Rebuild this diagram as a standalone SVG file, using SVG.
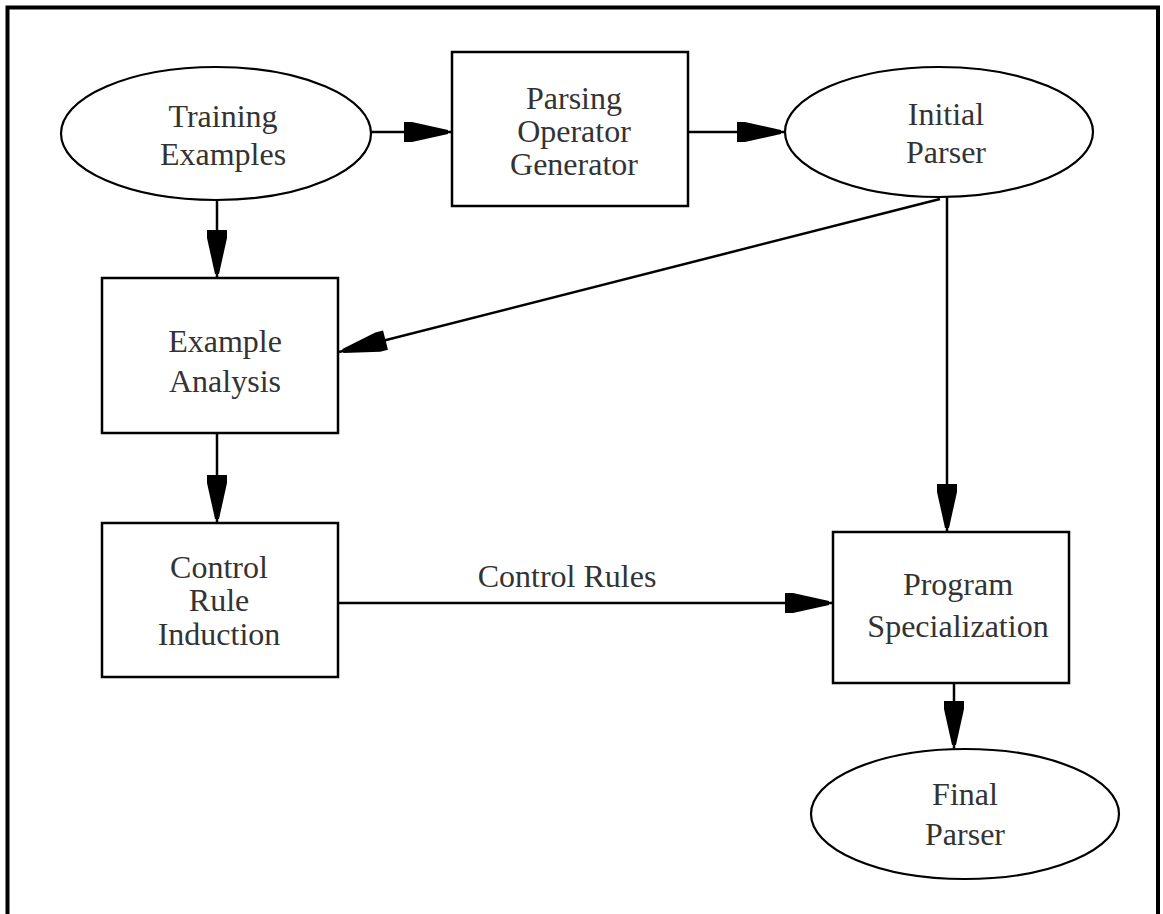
<svg xmlns="http://www.w3.org/2000/svg" width="1163" height="914" viewBox="0 0 1163 914">
  <style>
    .node { fill: #ffffff; stroke: #000000; stroke-width: 2.5; }
    .oval { fill: #ffffff; stroke: #000000; stroke-width: 2.2; }
    .label { font-family: "Liberation Serif", "Times New Roman", serif; font-size: 32px; fill: #333333; text-anchor: middle; }
    .edge { fill: none; stroke: #000000; stroke-width: 2.5; marker-end: url(#head); }
    .frame { fill: none; stroke: #000000; stroke-width: 4; }
  </style>
  <defs>
    <marker id="head" viewBox="0 -11 50 22" markerWidth="50" markerHeight="22" refX="50" refY="0" markerUnits="userSpaceOnUse" orient="auto">
      <path d="M2,-10 L10,-10 L46,-2 L46,2 L10,10 L2,10 Z" fill="#000000"/>
    </marker>
  </defs>

  <rect width="1163" height="914" fill="#ffffff"/>
  <!-- outer frame, open at the bottom -->
  <path class="frame" d="M7.5,914 V7.5 H1158 V914"/>

  <g id="connectors">
    <line class="edge" x1="371" y1="132" x2="452" y2="132"/>
    <line class="edge" x1="688" y1="132" x2="785" y2="132"/>
    <line class="edge" x1="217" y1="200" x2="217" y2="278"/>
    <line class="edge" x1="940" y1="199" x2="339" y2="352"/>
    <line class="edge" x1="947" y1="197" x2="947" y2="532"/>
    <line class="edge" x1="217" y1="433" x2="217" y2="523"/>
    <line class="edge" x1="338" y1="603" x2="833" y2="603"/>
    <line class="edge" x1="954" y1="683" x2="954" y2="749"/>
    <text class="label" x="567" y="587">Control Rules</text>
  </g>

  <g id="training-examples">
    <ellipse class="oval" cx="216" cy="133.5" rx="155" ry="66.5"/>
    <text class="label" x="223" y="127">Training</text>
    <text class="label" x="223" y="165">Examples</text>
  </g>

  <g id="parsing-operator-generator">
    <rect class="node" x="452" y="52" width="236" height="154"/>
    <text class="label" x="574" y="109">Parsing</text>
    <text class="label" x="574" y="142">Operator</text>
    <text class="label" x="574" y="175">Generator</text>
  </g>

  <g id="initial-parser">
    <ellipse class="oval" cx="939" cy="132" rx="154" ry="65"/>
    <text class="label" x="946" y="125">Initial</text>
    <text class="label" x="946" y="163">Parser</text>
  </g>

  <g id="example-analysis">
    <rect class="node" x="102" y="278" width="236" height="155"/>
    <text class="label" x="225" y="352">Example</text>
    <text class="label" x="225" y="392">Analysis</text>
  </g>

  <g id="control-rule-induction">
    <rect class="node" x="102" y="523" width="236" height="154"/>
    <text class="label" x="219" y="578">Control</text>
    <text class="label" x="219" y="611">Rule</text>
    <text class="label" x="219" y="645">Induction</text>
  </g>

  <g id="program-specialization">
    <rect class="node" x="833" y="532" width="236" height="151"/>
    <text class="label" x="958" y="595">Program</text>
    <text class="label" x="958" y="637">Specialization</text>
  </g>

  <g id="final-parser">
    <ellipse class="oval" cx="965" cy="814" rx="154" ry="65"/>
    <text class="label" x="965" y="805">Final</text>
    <text class="label" x="965" y="845">Parser</text>
  </g>
</svg>
